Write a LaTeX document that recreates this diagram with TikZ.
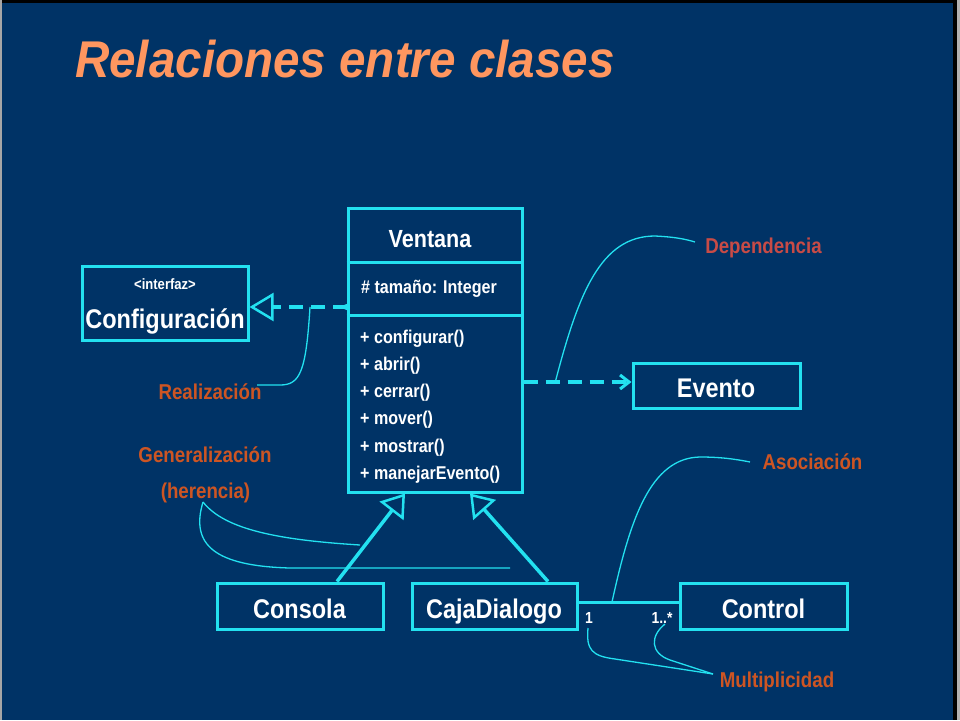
\documentclass[tikz,border=0pt]{standalone}
\usepackage{fontspec}
\setmainfont{Liberation Sans}[FakeStretch=0.87]
\newfontfamily\titlefont{Liberation Sans}[FakeStretch=0.92]
\usetikzlibrary{arrows.meta}
\definecolor{bg}{RGB}{0,51,102}
\definecolor{cy}{RGB}{35,225,240}
\definecolor{titlec}{RGB}{255,150,95}
\definecolor{lab}{RGB}{205,85,35}
\definecolor{depc}{RGB}{200,75,70}
\tikzset{
  box/.style={draw=cy, line width=3pt, fill=bg, inner sep=0pt},
  boxlabel/.style={text=white, font=\fontsize{27}{30}\selectfont\bfseries, anchor=base, inner sep=0pt},
  member/.style={text=white, font=\fontsize{18.5}{20}\selectfont\bfseries, anchor=base west, inner sep=0pt},
  mult/.style={text=white, font=\fontsize{16}{18}\selectfont\bfseries, anchor=base, inner sep=0pt},
  note/.style={text=lab, font=\fontsize{21.5}{24}\selectfont\bfseries, anchor=base, inner sep=0pt},
  callout/.style={draw=cy, line width=1.3pt},
  realiz/.style={draw=cy, line width=4pt, dash pattern=on 14pt off 8pt,
    -{Triangle[open, length=24pt, width=28pt, line width=2.5pt, fill=bg]}},
  depend/.style={draw=cy, line width=4pt, dash pattern=on 14pt off 8pt,
    -{Straight Barb[length=9pt, width=14pt, line width=3pt]}},
  gen/.style={draw=cy, line width=3.5pt,
    -{Triangle[open, length=22pt, width=30pt, line width=2.5pt, fill=bg]}},
  assoc/.style={draw=cy, line width=3pt},
}
\begin{document}
\begin{tikzpicture}[x=1pt, y=-1pt]
  \useasboundingbox (0,0) rectangle (960,720);
  \fill[bg] (0,0) rectangle (960,720);
  \fill[black] (0,0) rectangle (960,3);
  \fill[gray!70] (0,0) rectangle (2,720);
  \fill[black] (953,0) rectangle (957,720);
  \fill[gray!60] (957,0) rectangle (960,720);

  % title
  \node[anchor=base west, inner sep=0pt, text=titlec,
        font=\titlefont\fontsize{51.7}{56}\selectfont\bfseries\itshape] (title) at (75,77) {Relaciones entre clases};

  % boxes
  \node[box, minimum width=166pt, minimum height=74pt] (conf) at (165,303) {};
  \node[box, minimum width=174pt, minimum height=284pt] (ventana) at (435,350) {};
  \node[box, minimum width=167pt, minimum height=45pt] (evento) at (716.5,385.5) {};
  \node[box, minimum width=166pt, minimum height=46pt] (consola) at (300,606) {};
  \node[box, minimum width=165pt, minimum height=46pt] (caja) at (494.5,606) {};
  \node[box, minimum width=167pt, minimum height=46pt] (control) at (763.5,606) {};

  % Ventana compartments
  \draw[cy, line width=3pt] (ventana.west |- 0,262) -- (ventana.east |- 0,262);
  \draw[cy, line width=3pt] (ventana.west |- 0,315) -- (ventana.east |- 0,315);

  % box texts
  \node[text=white, font=\fontsize{15}{17}\selectfont\bfseries, anchor=base, inner sep=0pt] (interfaz) at (165,289) {<interfaz>};
  \node[boxlabel] (conftxt) at (165,328) {Configuración};
  \node[boxlabel, font=\fontsize{24.8}{28}\selectfont\bfseries] (ventanatxt) at (430,247) {Ventana};
  \node[member] (attr) at (361,293) {\# tamaño: Integer};
  \node[member] (m1) at (360,343.5) {+ configurar()};
  \node[member] (m2) at (360,370) {+ abrir()};
  \node[member] (m3) at (360,397.5) {+ cerrar()};
  \node[member] (m4) at (360,424.5) {+ mover()};
  \node[member] (m5) at (360,452) {+ mostrar()};
  \node[member] (m6) at (360,479.5) {+ manejarEvento()};
  \node[boxlabel] (eventotxt) at (716,397) {Evento};
  \node[boxlabel] (consolatxt) at (299.5,618) {Consola};
  \node[boxlabel] (cajatxt) at (494,618) {CajaDialogo};
  \node[boxlabel] (controltxt) at (763.5,618) {Control};

  % relations
  \coordinate (rs) at (ventana.west |- 0,307);
  \coordinate (re) at (conf.east |- 0,307);
  \draw[realiz] (rs) -- (re);
  \fill[cy] (rs) circle (3pt);

  \coordinate (ds) at (ventana.east |- 0,382);
  \coordinate (de) at (evento.west |- 0,382);
  \draw[depend] (ds) -- (de);

  \coordinate (g1s) at (consola.north -| 337,0);
  \coordinate (g1e) at (ventana.south -| 405,0);
  \draw[gen] (g1s) -- (g1e);
  \coordinate (g2s) at (caja.north -| 548,0);
  \coordinate (g2e) at (ventana.south -| 470,0);
  \draw[gen] (g2s) -- (g2e);

  \coordinate (as) at (caja.east |- 0,602);
  \coordinate (ae) at (control.west |- 0,602);
  \draw[assoc] (as) -- (ae);

  \node[mult] (m1txt) at (589,623) {1};
  \node[mult] (mntxt) at (662,623) {1..*};

  % labels
  \node[note, text=depc] (ldep) at (763.5,253) {Dependencia};
  \node[note] (lreal) at (210,399) {Realización};
  \node[note] (lgen) at (205,462) {Generalización};
  \node[note] (lher) at (205.5,498) {(herencia)};
  \node[note] (lasoc) at (812.5,469) {Asociación};
  \node[note] (lmult) at (777,687) {Multiplicidad};

  % callouts
  \coordinate (cdep1) at (555,383);
  \coordinate (cdep2) at (695,242);
  \draw[callout] (cdep1) .. controls (578,295) and (600,236) .. (655,236)
                         .. controls (675,237) and (685,239) .. (cdep2);
  \coordinate (creal1) at (310,307);
  \coordinate (creal2) at (257,385);
  \draw[callout] (creal1) .. controls (306,372) and (300,385) .. (280,385) -- (creal2);
  \coordinate (cgen0) at (203,502);
  \coordinate (cgen1) at (360,545);
  \coordinate (cgen2) at (510,568);
  \draw[callout] (cgen0) .. controls (225,530) and (280,540) .. (cgen1);
  \draw[callout] (cgen0) .. controls (190,545) and (215,566) .. (290,568) -- (cgen2);
  \coordinate (cas1) at (612,602);
  \coordinate (cas2) at (750,462);
  \draw[callout] (cas1) .. controls (630,520) and (650,458) .. (700,457)
                        .. controls (720,457) and (735,459) .. (cas2);
  \coordinate (cm1) at (588,628);
  \coordinate (cm2) at (665,624);
  \coordinate (cm3) at (713,674);
  \draw[callout] (cm1) .. controls (586,650) and (592,656) .. (615,659) -- (cm3);
  \draw[callout] (cm2) .. controls (650,636) and (650,653) .. (670,660) -- (cm3);
\end{tikzpicture}
\end{document}
